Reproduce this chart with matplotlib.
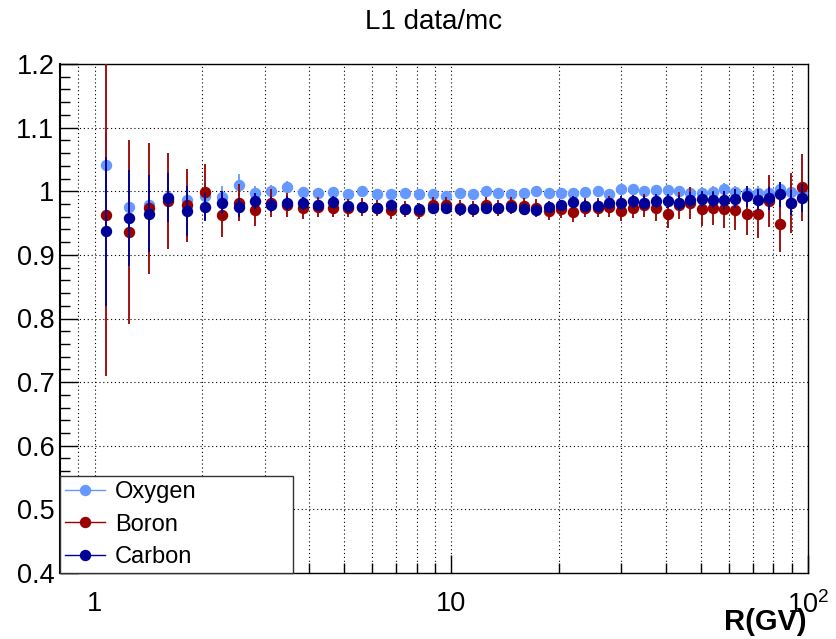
import numpy as np
import matplotlib
matplotlib.use('Agg')
import matplotlib.pyplot as plt
from matplotlib.lines import Line2D
from matplotlib.ticker import FixedLocator, NullFormatter, MultipleLocator, FuncFormatter

plt.rcParams['font.family'] = ['Liberation Sans', 'DejaVu Sans']
plt.rcParams['mathtext.fontset'] = 'custom'
plt.rcParams['mathtext.rm'] = 'Liberation Sans'

# rigidity bin edges (GV), points drawn at bin centres
r_edges = [1.00, 1.16, 1.33, 1.51, 1.71, 1.92, 2.15, 2.40, 2.67, 2.97, 3.29, 3.64,
           4.02, 4.43, 4.88, 5.37, 5.90, 6.47, 7.09, 7.76, 8.48, 9.26, 10.1, 11.0,
           12.0, 13.0, 14.1, 15.3, 16.6, 18.0, 19.5, 21.1, 22.8, 24.7, 26.7, 28.8,
           31.1, 33.5, 36.1, 38.9, 41.9, 45.1, 48.5, 52.2, 56.1, 60.3, 64.8, 69.7,
           74.9, 80.5, 86.5, 93.0, 100.0]

oxygen = [1.041, 0.976, 0.978, 0.991, 0.986, 0.993, 0.991, 1.010, 0.997, 1.000,
          1.007, 0.999, 0.997, 0.999, 0.996, 1.001, 0.995, 0.996, 0.998, 0.995,
          0.996, 0.992, 0.998, 0.996, 1.000, 0.998, 0.996, 0.998, 1.001, 0.998,
          0.998, 0.998, 0.999, 1.000, 0.996, 1.004, 1.003, 1.000, 1.002, 1.002,
          1.000, 0.998, 0.998, 0.999, 1.004, 0.999, 0.998, 0.998, 0.997, 1.004,
          0.999, 0.997]
oxygen_err = [0.050, 0.035, 0.030, 0.025, 0.022, 0.020, 0.018, 0.017, 0.012, 0.010,
              0.009, 0.008, 0.007, 0.007, 0.006, 0.006, 0.006, 0.006, 0.006, 0.006,
              0.006, 0.006, 0.006, 0.006, 0.006, 0.006, 0.006, 0.006, 0.006, 0.006,
              0.006, 0.006, 0.007, 0.007, 0.007, 0.007, 0.007, 0.007, 0.008, 0.008,
              0.008, 0.008, 0.009, 0.009, 0.009, 0.010, 0.010, 0.010, 0.011, 0.011,
              0.012, 0.012]

boron = [0.963, 0.936, 0.973, 0.985, 0.978, 0.999, 0.963, 0.982, 0.970, 0.982,
         0.978, 0.974, 0.975, 0.974, 0.974, 0.975, 0.974, 0.970, 0.972, 0.969,
         0.978, 0.978, 0.974, 0.972, 0.978, 0.974, 0.978, 0.977, 0.974, 0.969,
         0.972, 0.967, 0.974, 0.974, 0.976, 0.969, 0.974, 0.978, 0.973, 0.964,
         0.978, 0.981, 0.972, 0.974, 0.972, 0.971, 0.965, 0.964, 0.985, 0.949,
         0.981, 1.006]
boron_err = [0.253, 0.144, 0.103, 0.075, 0.057, 0.044, 0.035, 0.029, 0.025, 0.022,
             0.019, 0.017, 0.016, 0.015, 0.014, 0.014, 0.013, 0.013, 0.013, 0.013,
             0.013, 0.013, 0.013, 0.013, 0.013, 0.013, 0.013, 0.013, 0.014, 0.014,
             0.014, 0.015, 0.015, 0.015, 0.016, 0.016, 0.016, 0.018, 0.020, 0.021,
             0.021, 0.025, 0.027, 0.027, 0.029, 0.032, 0.034, 0.038, 0.041, 0.044,
             0.047, 0.053]

carbon = [0.937, 0.958, 0.965, 0.990, 0.969, 0.976, 0.982, 0.975, 0.985, 0.979,
          0.981, 0.981, 0.978, 0.983, 0.977, 0.975, 0.973, 0.979, 0.972, 0.972,
          0.973, 0.974, 0.972, 0.972, 0.973, 0.973, 0.975, 0.972, 0.971, 0.976,
          0.978, 0.983, 0.977, 0.977, 0.981, 0.982, 0.984, 0.982, 0.984, 0.985,
          0.982, 0.987, 0.988, 0.986, 0.986, 0.988, 0.992, 0.987, 0.989, 0.995,
          0.982, 0.990]
carbon_err = [0.117, 0.076, 0.060, 0.038, 0.040, 0.022, 0.018, 0.015, 0.013, 0.012,
              0.011, 0.010, 0.009, 0.009, 0.008, 0.008, 0.008, 0.008, 0.008, 0.008,
              0.008, 0.008, 0.008, 0.008, 0.008, 0.008, 0.008, 0.008, 0.008, 0.008,
              0.008, 0.009, 0.009, 0.009, 0.009, 0.010, 0.010, 0.010, 0.011, 0.011,
              0.012, 0.012, 0.013, 0.013, 0.014, 0.015, 0.016, 0.017, 0.018, 0.019,
              0.020, 0.022]

edges = np.array(r_edges)
r_centers = 0.5 * (edges[:-1] + edges[1:])

series = [('Oxygen', oxygen, oxygen_err, '#6699ff'),
          ('Boron', boron, boron_err, '#990000'),
          ('Carbon', carbon, carbon_err, '#000099')]

fig = plt.figure(figsize=(8.36, 6.39), dpi=100)
ax = fig.add_axes([60 / 836, 1 - 573 / 639, 748 / 836, 509 / 639])

handles = []
for i, (name, vals, errs, col) in enumerate(series):
    ax.errorbar(r_centers, vals, yerr=errs, fmt='o', color=col, ms=7.2,
                elinewidth=1.3, capsize=0, zorder=3 + i)
    handles.append(Line2D([], [], color=col, marker='o', ms=7.2, lw=1))

ax.set_xscale('log')
ax.set_xlim(0.8, 100)
ax.set_ylim(0.4, 1.2)

# x ticks
ax.xaxis.set_major_locator(FixedLocator([1, 10, 100]))
minor_x = [0.8, 0.9] + list(range(2, 10)) + list(range(20, 100, 10))
ax.xaxis.set_minor_locator(FixedLocator(minor_x))
ax.xaxis.set_minor_formatter(NullFormatter())
ax.set_xticklabels(['1', '10', r'$\mathregular{10^{2}}$'])

# y ticks
ax.yaxis.set_major_locator(MultipleLocator(0.1))
ax.yaxis.set_minor_locator(MultipleLocator(0.02))
ax.yaxis.set_major_formatter(FuncFormatter(lambda v, p: '%g' % round(v, 2)))

ax.tick_params(which='both', direction='in', top=False, right=False, width=1)
ax.tick_params(which='major', length=13)
ax.tick_params(which='minor', length=7)
ax.tick_params(axis='y', labelsize=19.5, pad=4)
ax.tick_params(axis='x', labelsize=19.5, pad=13)

ax.grid(axis='x', which='both', color='black', linestyle=(0, (1, 2.5)), lw=0.8)
ax.grid(axis='y', which='major', color='black', linestyle=(0, (1, 2.5)), lw=0.8)
ax.set_axisbelow(True)
for s in ax.spines.values():
    s.set_linewidth(1)
ax.spines['left'].set_linewidth(1.5)

leg = ax.legend(handles, ['Oxygen', 'Boron', 'Carbon'], loc='lower left',
                bbox_to_anchor=(0, 0, 233 / 748, 0.19), mode='expand',
                borderaxespad=0, fontsize=17, handlelength=1.7,
                handletextpad=0.4, labelspacing=0.43, borderpad=0.22,
                fancybox=False, framealpha=1, edgecolor='#333333')
leg.get_frame().set_linewidth(1)
leg.set_zorder(10)

fig.text(434 / 836, 1 - 22 / 639, 'L1 data/mc', ha='center', va='center', fontsize=20)
fig.text(807 / 836, 1 - 630 / 639, 'R(GV)', ha='right', va='baseline',
         fontsize=21, fontweight='bold')

fig.savefig('out.png', dpi=100)
